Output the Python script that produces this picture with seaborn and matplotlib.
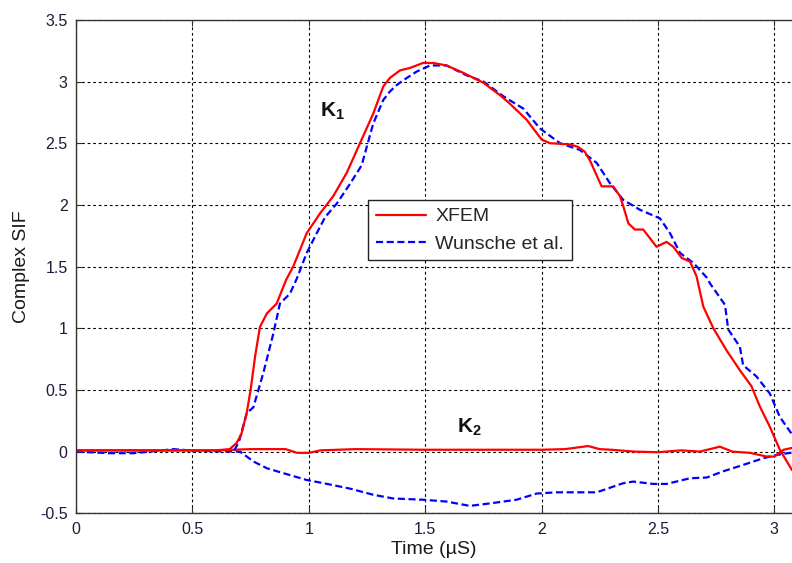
import numpy as np
import pandas as pd
import matplotlib
matplotlib.use("Agg")
import matplotlib.pyplot as plt
import seaborn as sns

# ---- data ----
xfem_k1_t = [0, 0.3, 0.6, 0.66, 0.69, 0.71, 0.733, 0.75, 0.77, 0.79, 0.82, 0.862, 0.902,
             0.933, 0.991, 1.048, 1.105, 1.163, 1.22, 1.277, 1.32, 1.349, 1.392, 1.435,
             1.49, 1.535, 1.592, 1.664, 1.75, 1.821, 1.864, 1.936, 2.0, 2.036, 2.122,
             2.157, 2.186, 2.208, 2.258, 2.308, 2.337, 2.351, 2.373, 2.401, 2.437, 2.494,
             2.537, 2.566, 2.602, 2.638, 2.666, 2.695, 2.738, 2.795, 2.852, 2.902, 2.938,
             2.981, 3.024, 3.076]
xfem_k1 = [0.01, 0.01, 0.01, 0.02, 0.07, 0.14, 0.31, 0.5, 0.78, 1.01, 1.12, 1.20, 1.39,
           1.50, 1.77, 1.93, 2.07, 2.26, 2.50, 2.74, 2.96, 3.03, 3.09, 3.11,
           3.15, 3.15, 3.13, 3.07, 2.99, 2.89, 2.82, 2.69, 2.53, 2.50, 2.49,
           2.47, 2.43, 2.36, 2.15, 2.15, 2.07, 1.99, 1.85, 1.80, 1.80, 1.66,
           1.70, 1.66, 1.57, 1.54, 1.42, 1.175, 1.0, 0.82, 0.66, 0.53, 0.365,
           0.20, 0.014, -0.15]

wun_k1_t = [0.68, 0.70, 0.733, 0.762, 0.805, 0.848, 0.876, 0.919, 0.948, 0.991, 1.034,
            1.07, 1.12, 1.177, 1.227, 1.249, 1.277, 1.32, 1.349, 1.377, 1.406, 1.463,
            1.521, 1.592, 1.678, 1.75, 1.836, 1.922, 1.993, 2.079, 2.165, 2.237, 2.294,
            2.351, 2.423, 2.509, 2.552, 2.595, 2.652, 2.71, 2.723, 2.788, 2.802, 2.852,
            2.866, 2.923, 2.981, 3.024, 3.076]
wun_k1 = [0.01, 0.08, 0.31, 0.36, 0.64, 0.96, 1.20, 1.28, 1.40, 1.61, 1.77,
          1.90, 2.01, 2.17, 2.32, 2.47, 2.66, 2.85, 2.92, 2.97, 3.01, 3.08,
          3.13, 3.13, 3.05, 3.0, 2.88, 2.78, 2.62, 2.50, 2.445, 2.34, 2.175,
          2.04, 1.96, 1.89, 1.77, 1.61, 1.53, 1.41, 1.365, 1.19, 0.99, 0.85,
          0.70, 0.61, 0.47, 0.28, 0.14]

xfem_k2_t = [0, 0.3, 0.6, 0.75, 0.9, 0.95, 1.0, 1.05, 1.2, 1.5, 1.8, 2.0, 2.1, 2.2, 2.25,
             2.3, 2.4, 2.5, 2.6, 2.68, 2.766, 2.82, 2.895, 2.967, 3.0, 3.04, 3.076]
xfem_k2 = [0.01, 0.01, 0.01, 0.02, 0.02, -0.01, -0.01, 0.01, 0.02, 0.015, 0.015, 0.015,
           0.02, 0.045, 0.02, 0.015, 0.0, -0.005, 0.01, 0.0, 0.04, 0.0, -0.01, -0.04,
           -0.04, 0.015, 0.03]

wun_k2_t = [0, 0.146, 0.246, 0.36, 0.418, 0.504, 0.6, 0.705, 0.762, 0.82, 0.891, 0.991,
            1.063, 1.177, 1.277, 1.363, 1.49, 1.592, 1.692, 1.778, 1.893, 1.979, 2.065,
            2.237, 2.351, 2.394, 2.48, 2.537, 2.638, 2.71, 2.78, 2.866, 2.952, 3.01, 3.076]
wun_k2 = [0, -0.013, -0.013, 0.008, 0.02, 0.008, 0.003, 0, -0.08, -0.135, -0.175, -0.23,
          -0.256, -0.30, -0.35, -0.38, -0.39, -0.405, -0.44, -0.42, -0.39, -0.34, -0.33,
          -0.33, -0.256, -0.243, -0.262, -0.262, -0.216, -0.21, -0.16, -0.108, -0.054,
          -0.027, -0.008]

x_ticks = [0, 0.5, 1, 1.5, 2, 2.5, 3]
x_tick_labels = ["0", "0.5", "1", "1.5", "2", "2.5", "3"]
y_ticks = [-0.5, 0, 0.5, 1, 1.5, 2, 2.5, 3, 3.5]
y_tick_labels = ["-0.5", "0", "0.5", "1", "1.5", "2", "2.5", "3", "3.5"]

# ---- style ----
sns.set_theme(style="ticks")
plt.rcParams["font.family"] = ["Liberation Sans", "DejaVu Sans"]
plt.rcParams["mathtext.fontset"] = "custom"
plt.rcParams["mathtext.rm"] = "Liberation Sans"
plt.rcParams["mathtext.bf"] = "Liberation Sans:bold"

fig = plt.figure(figsize=(7.92, 5.63), dpi=100)
ax = fig.add_axes([0.096, 0.0883, 0.904, 0.8765])

red = "#ff0000"
blue = "#0000ff"
lw = 1.6
dash = (3.2, 1.6)

df_xk1 = pd.DataFrame({"t": xfem_k1_t, "v": xfem_k1})
df_wk1 = pd.DataFrame({"t": wun_k1_t, "v": wun_k1})
df_xk2 = pd.DataFrame({"t": xfem_k2_t, "v": xfem_k2})
df_wk2 = pd.DataFrame({"t": wun_k2_t, "v": wun_k2})

sns.lineplot(data=df_wk2, x="t", y="v", ax=ax, color=blue, lw=lw, sort=False,
             estimator=None, linestyle=(0, dash))
sns.lineplot(data=df_xk2, x="t", y="v", ax=ax, color=red, lw=lw, sort=False,
             estimator=None)
sns.lineplot(data=df_wk1, x="t", y="v", ax=ax, color=blue, lw=lw, sort=False,
             estimator=None, linestyle=(0, dash))
sns.lineplot(data=df_xk1, x="t", y="v", ax=ax, color=red, lw=lw, sort=False,
             estimator=None)

lines = ax.get_lines()
h_xfem = lines[3]
h_wun = lines[2]

ax.set_xlim(0, 3.076)
ax.set_ylim(-0.5, 3.5)
ax.set_xticks(x_ticks)
ax.set_xticklabels(x_tick_labels)
ax.set_yticks(y_ticks)
ax.set_yticklabels(y_tick_labels)

ax.grid(True, color="black", linestyle=(0, (2.5, 2.5)), linewidth=0.8)
ax.set_axisbelow(True)
for s in ["left", "bottom", "top"]:
    ax.spines[s].set_color("#333333")
    ax.spines[s].set_linewidth(1.0)
ax.spines["right"].set_visible(False)
ax.tick_params(direction="in", length=4, width=0.8, colors="#333333",
               labelcolor="#1a1a3a", labelsize=11.5, top=True, pad=6)

ax.set_xlabel("Time (\u00b5S)", fontsize=14, color="#1a1a1a", labelpad=3)
ax.set_ylabel("Complex SIF", fontsize=14, color="#1a1a1a", labelpad=7)

ax.text(1.10, 2.76, r"$\mathbf{K_1}$", fontsize=15, ha="center", va="center", color="#111111")
ax.text(1.69, 0.20, r"$\mathbf{K_2}$", fontsize=15, ha="center", va="center", color="#111111")

leg = ax.legend([h_xfem, h_wun], ["XFEM", "Wunsche et al."], loc="upper left",
                bbox_to_anchor=(0.408, 0.635), borderaxespad=0, fontsize=14,
                frameon=True, fancybox=False, framealpha=1, edgecolor="#222222",
                handlelength=2.6, handletextpad=0.45, borderpad=0.4,
                labelspacing=0.5)
leg.get_frame().set_linewidth(1.0)

fig.savefig("out.png", dpi=100)
